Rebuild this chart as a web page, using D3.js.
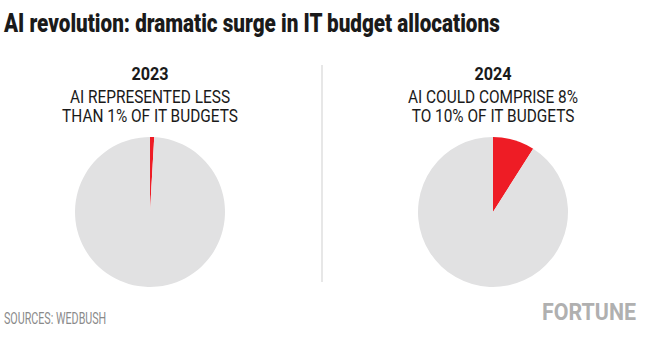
<!DOCTYPE html>
<html>
<head>
<meta charset="utf-8">
<script src="https://cdn.jsdelivr.net/npm/d3@7"></script>
<style>
  body { margin: 0; background: #fff; }
  svg { display: block; }
  .title { font-family: Roboto, sans-serif; font-weight: 900; font-size: 26px; fill: #1a1a1a; }
  .year { font-family: Roboto, sans-serif; font-weight: bold; font-size: 18px; fill: #1a1a1a; }
  .sub { font-family: Roboto, sans-serif; font-size: 17.5px; fill: #1a1a1a; }
  .src { font-family: Roboto, sans-serif; font-size: 16px; fill: #8a8a8a; }
  .logo { font-family: Roboto, sans-serif; font-weight: bold; font-size: 24px; fill: #b0b0b0; }
</style>
</head>
<body>
<div id="chart"></div>
<script>
// AI share of IT budgets (percent)
var years = ["2023", "2024"];
var aiShare = [0.9, 9];
var captions = [
  ["AI REPRESENTED LESS", "THAN 1% OF IT BUDGETS"],
  ["AI COULD COMPRISE 8%", "TO 10% OF IT BUDGETS"]
];

var width = 650, height = 344;
var svg = d3.select("#chart").append("svg")
  .attr("width", width)
  .attr("height", height);

// squeeze text horizontally to mimic the condensed face
function condense(sel, k) {
  sel.each(function() {
    var w = this.getComputedTextLength();
    d3.select(this).attr("textLength", w * k).attr("lengthAdjust", "spacingAndGlyphs");
  });
}

svg.append("text").attr("class", "title")
  .attr("x", 4).attr("y", 32)
  .text("AI revolution: dramatic surge in IT budget allocations")
  .call(condense, 0.795);

var cx = d3.scaleOrdinal().domain(years).range([150, 493]);
var radius = 75, cy = 212;

var pie = d3.pie().sort(null).value(function(d) { return d; });
var arc = d3.arc().innerRadius(0).outerRadius(radius);

years.forEach(function(y, i) {
  var g = svg.append("g").attr("transform", "translate(" + cx(y) + ",0)");
  g.append("text").attr("class", "year")
    .attr("y", 80).attr("text-anchor", "middle").text(y)
    .call(condense, 0.9);
  g.selectAll("text.sub").data(captions[i]).enter().append("text")
    .attr("class", "sub")
    .attr("text-anchor", "middle")
    .attr("y", function(d, j) { return 103 + j * 19; })
    .text(function(d) { return d; })
    .call(condense, 0.88);

  var p = g.append("g").attr("transform", "translate(0," + cy + ")");
  p.selectAll("path")
    .data(pie([aiShare[i], 100 - aiShare[i]]))
    .enter().append("path")
    .attr("d", arc)
    .attr("fill", function(d, k) { return k === 0 ? "#ee1c25" : "#e1e1e2"; });
});

svg.append("line")
  .attr("x1", 322).attr("x2", 322)
  .attr("y1", 65).attr("y2", 282)
  .attr("stroke", "#cfcfcf").attr("stroke-width", 1);

svg.append("text").attr("class", "src")
  .attr("x", 4).attr("y", 324)
  .text("SOURCES: WEDBUSH")
  .call(condense, 0.67);

svg.append("text").attr("class", "logo")
  .attr("x", 542).attr("y", 320)
  .attr("textLength", 94).attr("lengthAdjust", "spacingAndGlyphs")
  .text("FORTUNE");
</script>
</body>
</html>
